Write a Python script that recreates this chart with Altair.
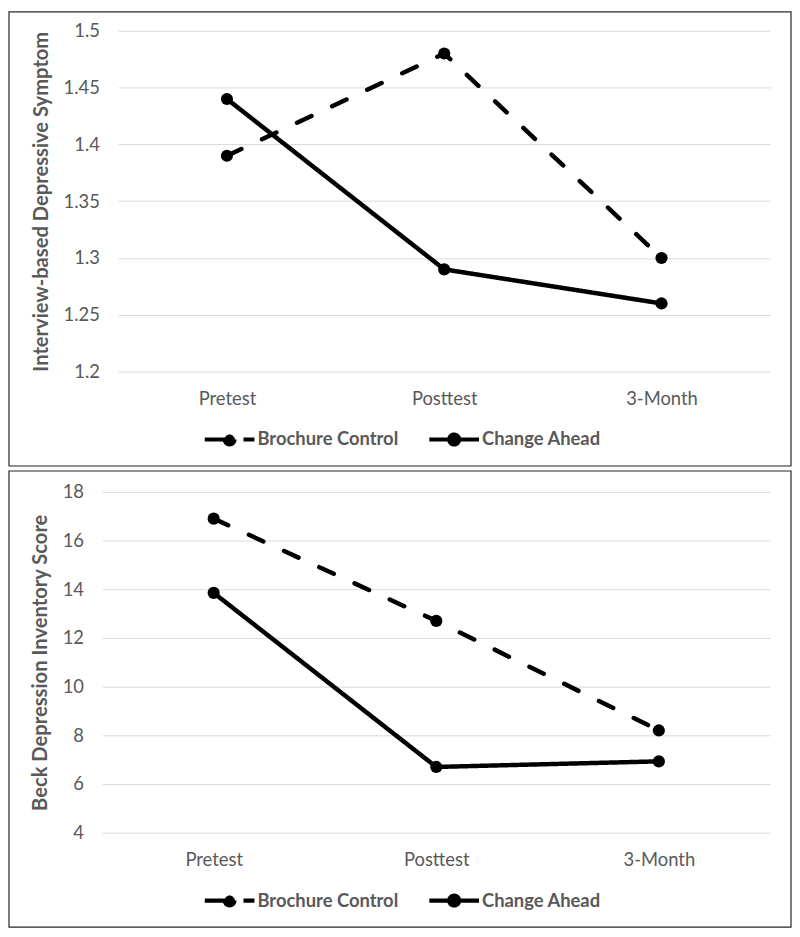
import altair as alt
import pandas as pd

timepoints = ["Pretest", "Posttest", "3-Month"]
groups = ["Brochure Control", "Change Ahead"]

interview_brochure = [1.39, 1.48, 1.30]
interview_change = [1.44, 1.29, 1.26]
interview_ticks = [1.2, 1.25, 1.3, 1.35, 1.4, 1.45, 1.5]

beck_brochure = [16.9, 12.7, 8.2]
beck_change = [13.85, 6.7, 6.93]
beck_ticks = [4, 6, 8, 10, 12, 14, 16, 18]

GRAY = "#595959"
FONT = "Lato"
# legend glyph: line with a dot; sub-paths sized so the dash pattern reads
# as "solid + dot, gap, short dash" like the original
LEG_PATH = ("M-1.508,0L-0.663,0"
            "M-0.663,0L1.508,0"
            "M0.844,0L1.508,0"
            "M0.3,0A0.3,0.3 0 1,1 -0.3,0A0.3,0.3 0 1,1 0.3,0Z")
W, H = 656, 343


def make_df(brochure, change):
    rows = []
    for t, v in zip(timepoints, brochure):
        rows.append({"time": t, "group": groups[0], "value": v})
    for t, v in zip(timepoints, change):
        rows.append({"time": t, "group": groups[1], "value": v})
    return pd.DataFrame(rows)


def panel(df, ticks, title, xrange, lpad, box):
    base = alt.Chart(df)
    x = alt.X("time:N", sort=timepoints, title=None,
              scale=alt.Scale(type="point", range=xrange, padding=0.5),
              axis=alt.Axis(labelAngle=0, ticks=False, domain=False, grid=False,
                            labelPadding=18, labelFont=FONT, labelFontSize=18.5,
                            labelColor=GRAY))
    y = alt.Y("value:Q", title=title,
              scale=alt.Scale(domain=[ticks[0], ticks[-1]], nice=False, zero=False),
              axis=alt.Axis(values=ticks, format="~g", ticks=False, domain=False,
                            grid=True, gridColor="#d9d9d9", gridWidth=1,
                            labelPadding=lpad, labelFont=FONT, labelFontSize=18.5,
                            labelColor=GRAY, titleFont=FONT, titleFontSize=20.3,
                            titleFontWeight="bold", titleColor=GRAY,
                            titlePadding=12))
    lines = base.mark_line(color="black", strokeWidth=4.5, strokeCap="round").encode(
        x=x, y=y,
        strokeDash=alt.StrokeDash(
            "group:N",
            scale=alt.Scale(domain=groups, range=[[16, 23], [1, 0]]),
            legend=alt.Legend(
                title=None, orient="none", direction="horizontal",
                legendX=93, legendY=H + 49, padding=0,
                symbolType=LEG_PATH, symbolSize=1100, symbolStrokeWidth=4.2,
                symbolStrokeColor="black", symbolFillColor="black",
                labelFont=FONT, labelFontSize=18.5, labelFontWeight="bold",
                labelColor=GRAY, columnPadding=22, labelOffset=9,
                labelLimit=300,
            ),
        ),
        detail="group:N",
    )
    points = base.mark_circle(color="black", size=150, opacity=1).encode(
        x=x, y=y, detail="group:N"
    )
    frame = alt.Chart(pd.DataFrame({"a": [0]})).mark_rect(
        fill=None, stroke="#262626", strokeWidth=1.2
    ).encode(
        x=alt.value(box[0]), x2=alt.value(W + box[1]),
        y=alt.value(box[2]), y2=alt.value(H + box[3]),
    )
    return alt.layer(frame, lines, points).properties(width=W, height=H)


top = panel(make_df(interview_brochure, interview_change), interview_ticks,
            "Interview-based Depressive Symptom", [0, W], 19,
            (-110, 21, -19, 95))
bottom = panel(make_df(beck_brochure, beck_change), beck_ticks,
               "Beck Depression Inventory Score", [-16, W], 35,
               (-110, 21, -21, 95))

chart = alt.vconcat(top, bottom, spacing=3).resolve_scale(
    strokeDash="independent"
).resolve_legend(strokeDash="independent").properties(
    padding={"left": 0, "top": 0, "right": 0, "bottom": 0},
    autosize=alt.AutoSizeParams(type="pad"),
).configure_view(stroke=None)

chart.save("out.html", embed_options={"renderer": "svg", "actions": False})
